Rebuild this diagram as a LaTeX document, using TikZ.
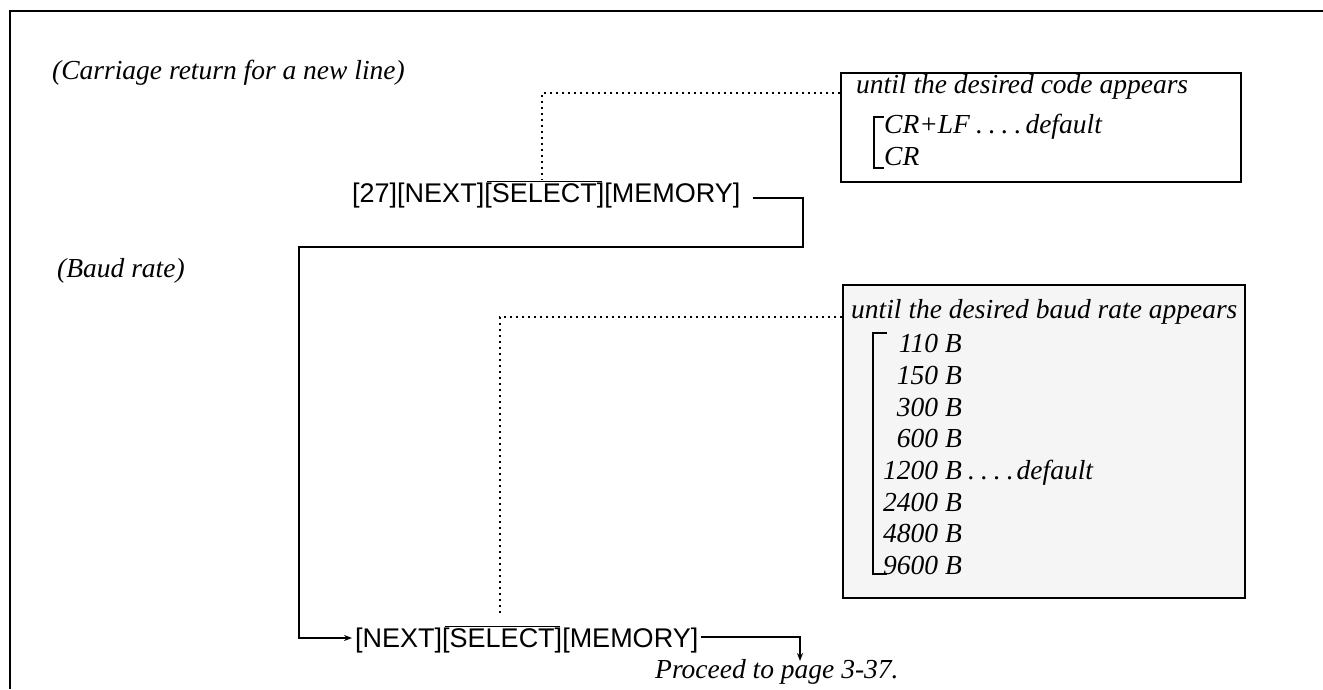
\documentclass[tikz,border=0pt]{standalone}
\usepackage{fontspec}
\setmainfont{Liberation Serif}
\newfontfamily\helv{Liberation Sans}
\usetikzlibrary{arrows.meta}
\newcommand\ovlsel[1]{\setbox0\hbox{#1}\rlap{\kern-5pt\raisebox{20pt}{\rule{\dimexpr\wd0+10pt\relax}{1.4pt}}}\box0}
\newcommand\dsep{\kern6pt}
\tikzset{
  itx/.style={font=\fontsize{27.5}{32}\selectfont\itshape, inner sep=0pt},
  sans/.style={font=\fontsize{27}{32}\selectfont\helv, inner sep=0pt},
  boxst/.style={draw, line width=2.2pt, inner sep=0pt},
  conn/.style={line width=1.7pt},
  dots/.style={line width=2.4pt, dash pattern=on 2.2pt off 3.8pt},
  brk/.style={line width=1.4pt},
  tip/.style={-{Stealth[length=8pt,width=6pt]}}
}
\begin{document}
\begin{tikzpicture}[x=1pt,y=-1pt]
\useasboundingbox (0,0) rectangle (1323,689);
% outer frame
\draw[line width=2.2pt] (10,689) -- (10,11) -- (1323,11);
% labels
\node[itx, anchor=base west] (crlabel) at (52,79) {(Carriage return for a new line)};
\node[itx, anchor=base west] (baud) at (57,277) {(Baud rate)};
% box 1
\node[boxst, minimum width=400pt, minimum height=109pt, anchor=north west] (box1) at (840,72) {};
\node[itx, anchor=base west] (h1) at (856,93) {until the desired code appears};
\node[itx, anchor=base west] (c1) at (884,133) {CR+LF\dsep.\dsep.\dsep.\dsep.\kern4pt default};
\node[itx, anchor=base west] (c2) at (884,165) {CR};
\draw[brk] (884,117) -- (874,117) -- (874,168) -- (884,168);
% box 2
\node[boxst, fill=black!4, minimum width=402pt, minimum height=313pt, anchor=north west] (box2) at (842,284) {};
\node[itx, anchor=base west] (h2) at (851,318) {until the desired baud rate appears};
\node[itx, anchor=base east] (i1) at (962,352) {110 B};
\node[itx, anchor=base east] (i2) at (962,384) {150 B};
\node[itx, anchor=base east] (i3) at (962,416) {300 B};
\node[itx, anchor=base east] (i4) at (962,447) {600 B};
\node[itx, anchor=base east] (i5) at (962,479) {1200 B};
\node[itx, anchor=base west] (dflt) at (i5.base east) {\dsep.\dsep.\dsep.\dsep.\kern3pt default};
\node[itx, anchor=base east] (i6) at (962,511) {2400 B};
\node[itx, anchor=base east] (i7) at (962,542) {4800 B};
\node[itx, anchor=base east] (i8) at (962,574) {9600 B};
\draw[brk] (887,333) -- (873,333) -- (873,574) -- (887,574);
% key rows
\node[sans, anchor=base west] (row1) at (352,202) {[27][NEXT][\ovlsel{SELECT}][MEMORY]};
\node[sans, anchor=base west] (row2) at (355,647) {[NEXT][\ovlsel{SELECT}][MEMORY]};
\node[itx, anchor=base west] (proceed) at (655,678) {Proceed to page 3-37.};
% dotted leaders
\coordinate (sel1) at (542,180);
\coordinate (sel2) at (500,615);
\draw[dots] ([yshift=-21pt]box1.north west) -| (sel1);
\draw[dots] ([yshift=-33pt]box2.north west) -| (sel2);
% connectors
\coordinate (turn1) at (803,247);
\coordinate (turn2) at (299,638);
\coordinate (pend) at (800,661);
\draw[conn, tip] ([xshift=12pt,yshift=4pt]row1.base east) -| (turn1) -| (turn2) -- ([xshift=-3pt,yshift=9pt]row2.base west);
\draw[conn, tip] ([xshift=3pt,yshift=10pt]row2.base east) -| (pend);
\end{tikzpicture}
\end{document}
